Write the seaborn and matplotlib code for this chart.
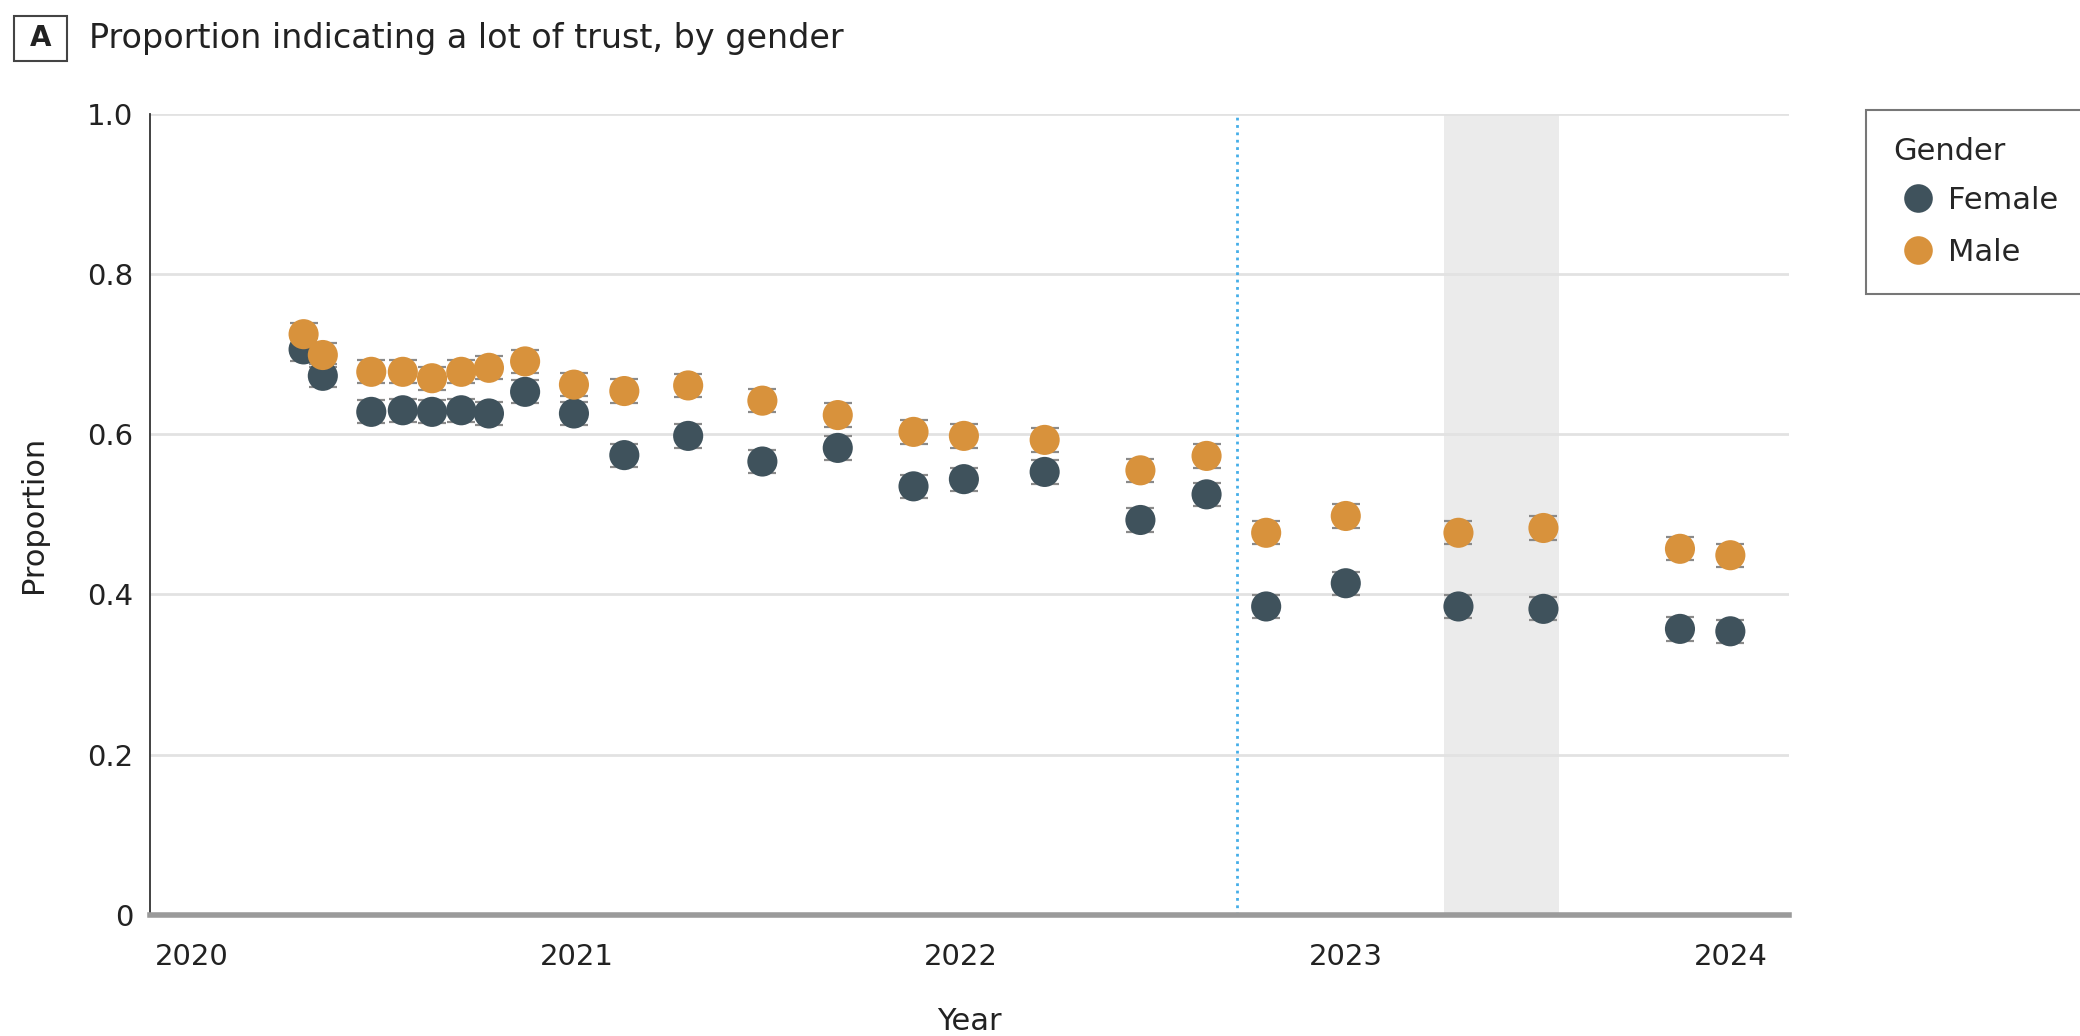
import pandas as pd
import numpy as np
import matplotlib
matplotlib.use("Agg")
import matplotlib.pyplot as plt
import seaborn as sns
from matplotlib.patches import Rectangle

# survey wave dates (decimal years)
years = [2020.29, 2020.34, 2020.466, 2020.548, 2020.624, 2020.70, 2020.772, 2020.866,
         2020.993, 2021.124, 2021.29, 2021.483, 2021.679, 2021.876, 2022.007, 2022.217,
         2022.466, 2022.638, 2022.793, 2023.0, 2023.293, 2023.514, 2023.869, 2024.0]
female = [0.706, 0.673, 0.628, 0.630, 0.628, 0.630, 0.626, 0.653,
          0.626, 0.574, 0.598, 0.566, 0.583, 0.535, 0.544, 0.553,
          0.493, 0.525, 0.385, 0.414, 0.385, 0.382, 0.357, 0.354]
male = [0.725, 0.699, 0.678, 0.678, 0.670, 0.678, 0.683, 0.691,
        0.662, 0.654, 0.661, 0.642, 0.624, 0.603, 0.598, 0.593,
        0.555, 0.573, 0.477, 0.498, 0.477, 0.483, 0.457, 0.449]
ci_half = 0.0145

event_year = 2022.717
shade_start, shade_end = 2023.255, 2023.555

palette = {"Female": "#3f525c", "Male": "#d8923c"}

df = pd.DataFrame({
    "Year": years * 2,
    "Proportion": female + male,
    "Gender": ["Female"] * len(years) + ["Male"] * len(years),
})

sns.set_style("white")
plt.rcParams['font.family'] = ['DejaVu Sans']

fig = plt.figure(figsize=(20.8, 10.36), dpi=100)
ax = fig.add_axes([0.072, 0.117, 0.788, 0.773])

ax.axvspan(shade_start, shade_end, color="#ebebeb", zorder=0, lw=0)
ax.axvline(event_year, color="#45aee8", ls=":", lw=2, zorder=1)
for yv in [0.2, 0.4, 0.6, 0.8, 1.0]:
    ax.axhline(yv, color="#e2e2e2", lw=2, zorder=0.5)

for g in ["Female", "Male"]:
    sub = df[df.Gender == g]
    ax.errorbar(sub.Year, sub.Proportion, yerr=ci_half, fmt="none",
                ecolor="#8a8a8a", elinewidth=1.0, capsize=10, capthick=1.6, zorder=2)

sns.scatterplot(data=df, x="Year", y="Proportion", hue="Gender", palette=palette,
                s=470, edgecolor="none", ax=ax, zorder=3, legend=True)

ax.set_xlim(2019.89, 2024.152)
ax.set_ylim(0, 1.0)
ax.set_xticks([2020, 2021, 2022, 2023, 2024])
ax.set_yticks([0, 0.2, 0.4, 0.6, 0.8, 1.0])
ax.set_yticklabels(["0", "0.2", "0.4", "0.6", "0.8", "1.0"])
ax.tick_params(axis="both", labelsize=21, colors="#222222")
ax.tick_params(axis="x", length=10, width=1.2, color="#666666", pad=10)
ax.tick_params(axis="y", length=6, width=1.2, color="#444444", pad=6)

for s in ["top", "right"]:
    ax.spines[s].set_visible(False)
ax.spines["left"].set_color("#333333")
ax.spines["left"].set_linewidth(1.3)
ax.spines["bottom"].set_color("#9a9a9a")
ax.spines["bottom"].set_linewidth(4)

ax.set_xlabel("Year", fontsize=22, labelpad=26, color="#222222")
ax.set_ylabel("Proportion", fontsize=22, labelpad=28, color="#222222")

leg = ax.legend(title="Gender", loc="upper left", bbox_to_anchor=(1.047, 1.005),
                fontsize=22, title_fontsize=22, frameon=True, fancybox=False,
                edgecolor="#555555", markerscale=0.95, handletextpad=0.2,
                handlelength=1.6, borderpad=0.9, labelspacing=0.75, borderaxespad=0)
leg._legend_box.align = "left"
leg._legend_box.sep = 14
leg.get_frame().set_linewidth(1.5)

# panel label
fig.patches.append(Rectangle((0.0065, 0.941), 0.0255, 0.044, transform=fig.transFigure,
                             fill=False, edgecolor="#444444", lw=1.5))
fig.text(0.0193, 0.963, "A", fontsize=20, fontweight="bold", ha="center", va="center",
         color="#222222")
fig.text(0.043, 0.963, "Proportion indicating a lot of trust, by gender", fontsize=24,
         ha="left", va="center", color="#222222")

fig.savefig("out.png", dpi=100)
